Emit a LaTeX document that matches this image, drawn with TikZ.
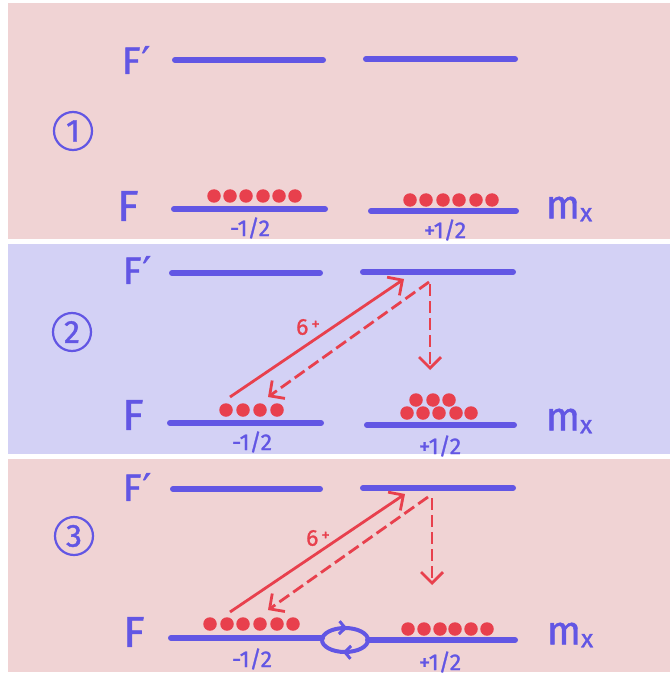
\documentclass[tikz,border=0pt]{standalone}
\usepackage{fontspec}
\setmainfont{Fira Sans}[FakeBold=1.2]
\newfontfamily\djv{DejaVu Sans}[FakeBold=1.2]
\usetikzlibrary{arrows.meta,decorations.markings}
\definecolor{pinkbg}{RGB}{240,211,212}
\definecolor{lavbg}{RGB}{211,209,245}
\definecolor{lvl}{RGB}{98,86,228}
\definecolor{dotred}{RGB}{232,64,77}
\tikzset{
  level/.style={draw=lvl, line width=6pt, line cap=round},
  atom/.style={circle, fill=dotred, inner sep=0pt, minimum size=13.5pt},
  lbl/.style={text=lvl, font=\fontsize{23}{25}\selectfont, inner sep=0pt},
  bigF/.style={text=lvl, font=\fontsize{43}{45}\selectfont, inner sep=0pt},
  bigFp/.style={text=lvl, font=\fontsize{38}{40}\selectfont, inner sep=0pt},
  mx/.style={text=lvl, font=\fontsize{40}{42}\selectfont, inner sep=0pt},
  numc/.style={circle, draw=lvl, line width=2.2pt, minimum size=38pt, inner sep=0pt, text=lvl, font=\fontsize{32}{34}\selectfont},
  pump/.style={draw=dotred, line width=2.8pt, -{Straight Barb[length=11pt,width=22pt,line width=2.8pt]}},
  decay/.style={pump, dash pattern=on 12pt off 5pt},
  redlbl/.style={text=dotred, font=\fontsize{23}{25}\selectfont, inner sep=0pt},
  loopst/.style={draw=lvl, line width=4pt},
}
\newcommand{\Fp}{F{\djv\kern1pt′}}
\newcommand{\mxlabel}{m\raisebox{-3pt}{\fontsize{25}{25}\selectfont x}}
\newcommand{\sixplus}{6\kern3pt\raisebox{5pt}{\fontsize{17}{17}\selectfont +}}
\begin{document}
\begin{tikzpicture}[x=1pt,y=-1pt]
\useasboundingbox (0,0) rectangle (670,676);
\fill[white] (0,0) rectangle (670,676);
\fill[pinkbg] (8,3) rectangle (670,239);
\fill[lavbg] (8,244) rectangle (670,454);
\fill[pinkbg] (8,459) rectangle (670,672);

% ---------- Panel 1 ----------
\node[bigFp] (fp1) at (136,60) {\Fp};
\coordinate (a1) at (175,60); \coordinate (b1) at (323,60);
\coordinate (c1) at (366,59); \coordinate (d1) at (515,59);
\draw[level] (a1) -- (b1);
\draw[level] (c1) -- (d1);
\node[numc] (n1) at (73,131) {1};
\node[bigF] (f1) at (128,206) {F};
\coordinate (e1) at (174,209); \coordinate (g1) at (325,209);
\coordinate (h1) at (371,211); \coordinate (k1) at (516,211);
\draw[level] (e1) -- (g1);
\draw[level] (h1) -- (k1);
\foreach \i/\x in {1/214,2/230,3/246,4/263,5/279,6/295}
  \node[atom] (l1d\i) at (\x,196) {};
\foreach \i/\x in {1/410,2/426,3/443,4/459,5/476,6/492}
  \node[atom] (r1d\i) at (\x,200) {};
\node[lbl] (ml1) at (250,228) {-1/2};
\node[lbl] (pl1) at (445,230) {+1/2};
\node[mx] (m1) at (569,209) {\mxlabel};

% ---------- Panel 2 ----------
\node[bigFp] (fp2) at (137,270) {\Fp};
\coordinate (a2) at (172,273); \coordinate (b2) at (320,273);
\coordinate (c2) at (363,272); \coordinate (d2) at (513,272);
\draw[level] (a2) -- (b2);
\draw[level] (c2) -- (d2);
\node[numc] (n2) at (72,332) {2};
\node[bigF] (f2) at (133,415) {F};
\coordinate (e2) at (170,423); \coordinate (g2) at (321,423);
\coordinate (h2) at (367,425); \coordinate (k2) at (514,425);
\draw[level] (e2) -- (g2);
\draw[level] (h2) -- (k2);
\foreach \i/\x in {1/226,2/243,3/260,4/277}
  \node[atom] (l2d\i) at (\x,410) {};
\foreach \i/\x in {1/407,2/423,3/439,4/456,5/471}
  \node[atom] (r2b\i) at (\x,413) {};
\foreach \i/\x in {1/416,2/433,3/449}
  \node[atom] (r2t\i) at (\x,400) {};
\node[lbl] (ml2) at (252,442) {-1/2};
\node[lbl] (pl2) at (440,446) {+1/2};
\node[mx] (m2) at (569,421) {\mxlabel};
\coordinate (s2a) at (230,397); \coordinate (s2b) at (404,279);
\coordinate (d2a) at (429,282); \coordinate (d2b) at (268,397);
\coordinate (v2a) at (430,284); \coordinate (v2b) at (430,370);
\draw[pump] (s2a) -- (s2b);
\draw[decay] (d2a) -- (d2b);
\draw[decay] (v2a) -- (v2b);
\node[redlbl] (six2) at (308,327) {\sixplus};

% ---------- Panel 3 ----------
\node[bigFp] (fp3) at (137,487) {\Fp};
\coordinate (a3) at (173,489); \coordinate (b3) at (320,489);
\coordinate (c3) at (363,488); \coordinate (d3) at (513,488);
\draw[level] (a3) -- (b3);
\draw[level] (c3) -- (d3);
\node[numc] (n3) at (74,536) {3};
\node[bigF] (f3) at (134,632) {F};
\coordinate (e3) at (171,638); \coordinate (g3) at (322,638);
\coordinate (h3) at (368,640); \coordinate (k3) at (515,640);
\draw[level] (e3) -- (g3);
\draw[level] (h3) -- (k3);
\coordinate (loop) at (345,640);
\draw[loopst, postaction={decorate},
  decoration={markings,
    mark=at position 0.27 with {\arrow{Straight Barb[length=6pt,width=13pt,line width=3pt]}},
    mark=at position 0.77 with {\arrow{Straight Barb[length=6pt,width=13pt,line width=3pt]}}}]
  (loop) ellipse [x radius=23, y radius=12];
\foreach \i/\x in {1/210,2/227,3/243,4/260,5/277,6/293}
  \node[atom] (l3d\i) at (\x,624) {};
\foreach \i/\x in {1/408,2/424,3/440,4/455,5/471,6/487}
  \node[atom] (r3d\i) at (\x,629) {};
\node[lbl] (ml3) at (252,659) {-1/2};
\node[lbl] (pl3) at (440,662) {+1/2};
\node[mx] (m3) at (570,635) {\mxlabel};
\coordinate (s3a) at (230,612); \coordinate (s3b) at (405,494);
\coordinate (d3a) at (428,497); \coordinate (d3b) at (268,610);
\coordinate (v3a) at (432,498); \coordinate (v3b) at (432,585);
\draw[pump] (s3a) -- (s3b);
\draw[decay] (d3a) -- (d3b);
\draw[decay] (v3a) -- (v3b);
\node[redlbl] (six3) at (318,538) {\sixplus};
\end{tikzpicture}
\end{document}
